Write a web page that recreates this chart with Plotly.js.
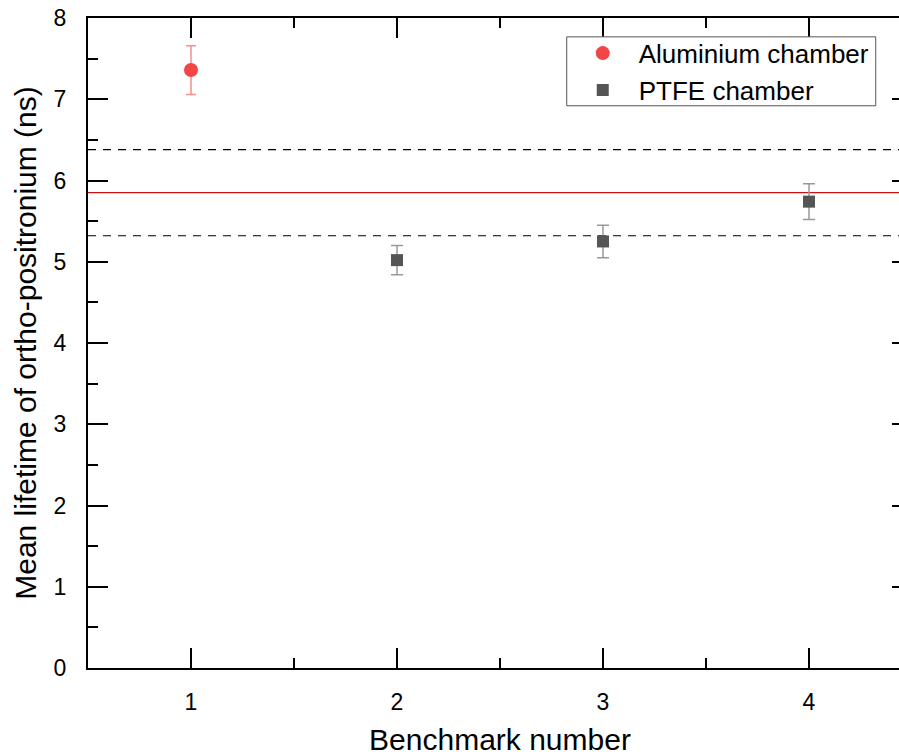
<!DOCTYPE html>
<html>
<head>
<meta charset="utf-8">
<script src="https://cdn.plot.ly/plotly-3.0.1.min.js"></script>
<style>
html,body{margin:0;padding:0;overflow:hidden;background:#fff;}
#chart{width:920px;height:756px;}
</style>
</head>
<body>
<div id="chart"></div>
<script>
// Data
const alX = [1];
const alY = [7.36];
const alErr = [0.30];

const ptfeX = [2, 3, 4];
const ptfeY = [5.02, 5.25, 5.74];
const ptfeErr = [0.18, 0.20, 0.22];

const meanLine = [5.85];
const bandLines = [6.38, 5.32];

const seriesNames = ['Aluminium chamber', 'PTFE chamber'];
const xTicks = [1, 2, 3, 4];
const yTicks = [0, 1, 2, 3, 4, 5, 6, 7, 8];

const FONT = 'Liberation Sans, Arial, sans-serif';

const traces = [
  {
    x: alX, y: alY, name: seriesNames[0], type: 'scatter', mode: 'markers',
    marker: {symbol: 'circle', size: 14, color: '#f24545'},
    error_y: {type: 'data', array: alErr, visible: true, color: '#f39090', thickness: 1.5, width: 5}
  },
  {
    x: ptfeX, y: ptfeY, name: seriesNames[1], type: 'scatter', mode: 'markers',
    marker: {symbol: 'square', size: 12, color: '#555555'},
    error_y: {type: 'data', array: ptfeErr, visible: true, color: '#999999', thickness: 1.5, width: 6}
  }
];

const shapes = [];
meanLine.forEach(v => shapes.push({
  type: 'line', xref: 'paper', yref: 'y', x0: 0, x1: 1, y0: v, y1: v,
  line: {color: '#cc1111', width: 1.2}, layer: 'below'
}));
bandLines.forEach(v => shapes.push({
  type: 'line', xref: 'paper', yref: 'y', x0: 0, x1: 1, y0: v, y1: v,
  line: {color: '#000000', width: 1.2, dash: '8px,7px'}, layer: 'below'
}));
// legend frame
shapes.push({
  type: 'rect', xref: 'paper', yref: 'paper', x0: 0.581, x1: 0.956, y0: 0.865, y1: 0.971,
  line: {color: '#555', width: 1}, fillcolor: '#fff', layer: 'above'
});

const axisCommon = {
  showline: true, linecolor: '#000', linewidth: 2, mirror: 'ticks',
  ticks: 'inside', ticklen: 20, tickwidth: 2, tickcolor: '#000',
  showgrid: false, zeroline: false,
  tickfont: {family: FONT, size: 23, color: '#000'}
};

const layout = {
  width: 920, height: 756,
  margin: {l: 88, r: 8, t: 18, b: 88},
  paper_bgcolor: '#fff', plot_bgcolor: '#fff',
  showlegend: true,
  xaxis: Object.assign({}, axisCommon, {
    range: [0.5, 4.5], tickvals: xTicks, ticktext: xTicks.map(String),
    ticklabelstandoff: 12,
    minor: {ticks: 'inside', ticklen: 10, tickwidth: 2, tickcolor: '#000', dtick: 0.5, tick0: 0.5, showgrid: false},
    title: {text: 'Benchmark number', font: {family: FONT, size: 30, color: '#000'}, standoff: 18}
  }),
  yaxis: Object.assign({}, axisCommon, {
    range: [0, 8], tickvals: yTicks, ticktext: yTicks.map(String),
    ticklabelstandoff: 15,
    minor: {ticks: 'inside', ticklen: 10, tickwidth: 2, tickcolor: '#000', dtick: 0.5, tick0: 0, showgrid: false},
    title: {text: 'Mean lifetime of ortho-positronium (ns)', font: {family: FONT, size: 30, color: '#000'}, standoff: 8}
  }),
  legend: {
    x: 0.581, y: 0.982, xanchor: 'left', yanchor: 'top',
    bgcolor: 'rgba(0,0,0,0)', borderwidth: 0,
    font: {family: FONT, size: 26, color: '#000'},
    tracegroupgap: 0, itemwidth: 62
  },
  shapes: shapes
};

Plotly.newPlot('chart', traces, layout, {displayModeBar: false, staticPlot: true});
</script>
</body>
</html>
